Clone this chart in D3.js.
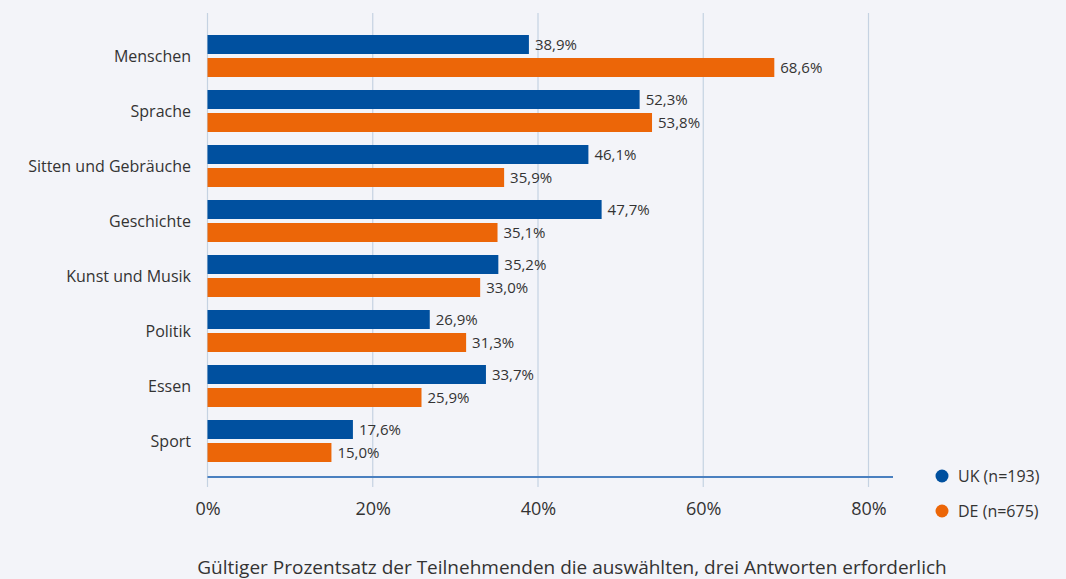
<!DOCTYPE html>
<html>
<head>
<meta charset="utf-8">
<script src="https://cdn.jsdelivr.net/npm/d3@7"></script>
<style>
  html, body { margin: 0; padding: 0; background: #f3f4f9; }
  svg { display: block; font-family: "Open Sans", "Noto Sans", sans-serif; }
</style>
</head>
<body>
<div id="chart"></div>
<script>
const categories = ["Menschen", "Sprache", "Sitten und Gebräuche", "Geschichte", "Kunst und Musik", "Politik", "Essen", "Sport"];
const seriesNames = ["UK (n=193)", "DE (n=675)"];
const ukValues = [38.9, 52.3, 46.1, 47.7, 35.2, 26.9, 33.7, 17.6];
const deValues = [68.6, 53.8, 35.9, 35.1, 33.0, 31.3, 25.9, 15.0];
const xTicks = [0, 20, 40, 60, 80];
const colors = ["#00509f", "#ec6608"];
const axisTitle = "Gültiger Prozentsatz der Teilnehmenden die auswählten, drei Antworten erforderlich";

const w = 1066, h = 579;
const svg = d3.select("#chart").append("svg").attr("width", w).attr("height", h);
svg.append("rect").attr("width", w).attr("height", h).attr("fill", "#f3f4f9");

const x = d3.scaleLinear().domain([0, 80]).range([207.5, 868.5]);
const y = d3.scaleBand().domain(categories).range([28.5, 468.5]).padding(0);
const ySub = d3.scaleBand().domain(["UK", "DE"]).range([6.5, 48.5]).paddingInner(0.1739);

const fmt = v => d3.format(".1f")(v).replace(".", ",") + "%";

// gridlines
svg.append("g").selectAll("line").data(xTicks).enter().append("line")
  .attr("x1", d => x(d)).attr("x2", d => x(d))
  .attr("y1", 13).attr("y2", 487)
  .attr("stroke", "#c5d2e2").attr("stroke-width", 1.2);

const rows = categories.map((c, i) => ({ cat: c, vals: [ukValues[i], deValues[i]] }));

const grp = svg.append("g").selectAll("g").data(rows).enter().append("g")
  .attr("transform", d => `translate(0,${y(d.cat)})`);

grp.selectAll("rect").data(d => d.vals.map((v, k) => ({ v, k }))).enter().append("rect")
  .attr("x", x(0))
  .attr("y", d => ySub(d.k === 0 ? "UK" : "DE"))
  .attr("width", d => x(d.v) - x(0))
  .attr("height", ySub.bandwidth())
  .attr("fill", d => colors[d.k]);

grp.selectAll("text.val").data(d => d.vals.map((v, k) => ({ v, k }))).enter().append("text")
  .attr("class", "val")
  .attr("x", d => x(d.v) + 6)
  .attr("y", d => ySub(d.k === 0 ? "UK" : "DE") + ySub.bandwidth() / 2)
  .attr("dy", "0.36em")
  .attr("font-size", 15)
  .attr("fill", "#333")
  .text(d => fmt(d.v));

// category labels
svg.append("g").selectAll("text").data(categories).enter().append("text")
  .attr("x", 191)
  .attr("y", d => y(d) + y.bandwidth() / 2)
  .attr("dy", "0.35em")
  .attr("text-anchor", "end")
  .attr("font-size", 16)
  .attr("fill", "#333")
  .text(d => d);

// baseline
svg.append("line")
  .attr("x1", x(0)).attr("x2", 893)
  .attr("y1", 477).attr("y2", 477)
  .attr("stroke", "#4a80c0").attr("stroke-width", 2);

// x axis labels
const xAxis = d3.axisBottom(x).tickValues(xTicks).tickSize(0).tickFormat(d => d + "%");
const ax = svg.append("g").attr("transform", "translate(0,499)").call(xAxis);
ax.select(".domain").remove();
ax.selectAll("text").attr("font-size", 18).attr("fill", "#333")
  .attr("font-family", "\"Open Sans\", \"Noto Sans\", sans-serif");

// axis title
svg.append("text")
  .attr("x", 572).attr("y", 574)
  .attr("text-anchor", "middle")
  .attr("font-size", 19)
  .attr("fill", "#333")
  .text(axisTitle);

// legend
const leg = svg.append("g").selectAll("g").data(seriesNames).enter().append("g")
  .attr("transform", (d, i) => `translate(942,${476 + i * 35})`);
leg.append("circle").attr("r", 6.5).attr("fill", (d, i) => colors[i]);
leg.append("text").attr("x", 16).attr("dy", "0.35em")
  .attr("font-size", 16).attr("fill", "#333").text(d => d);
</script>
</body>
</html>
